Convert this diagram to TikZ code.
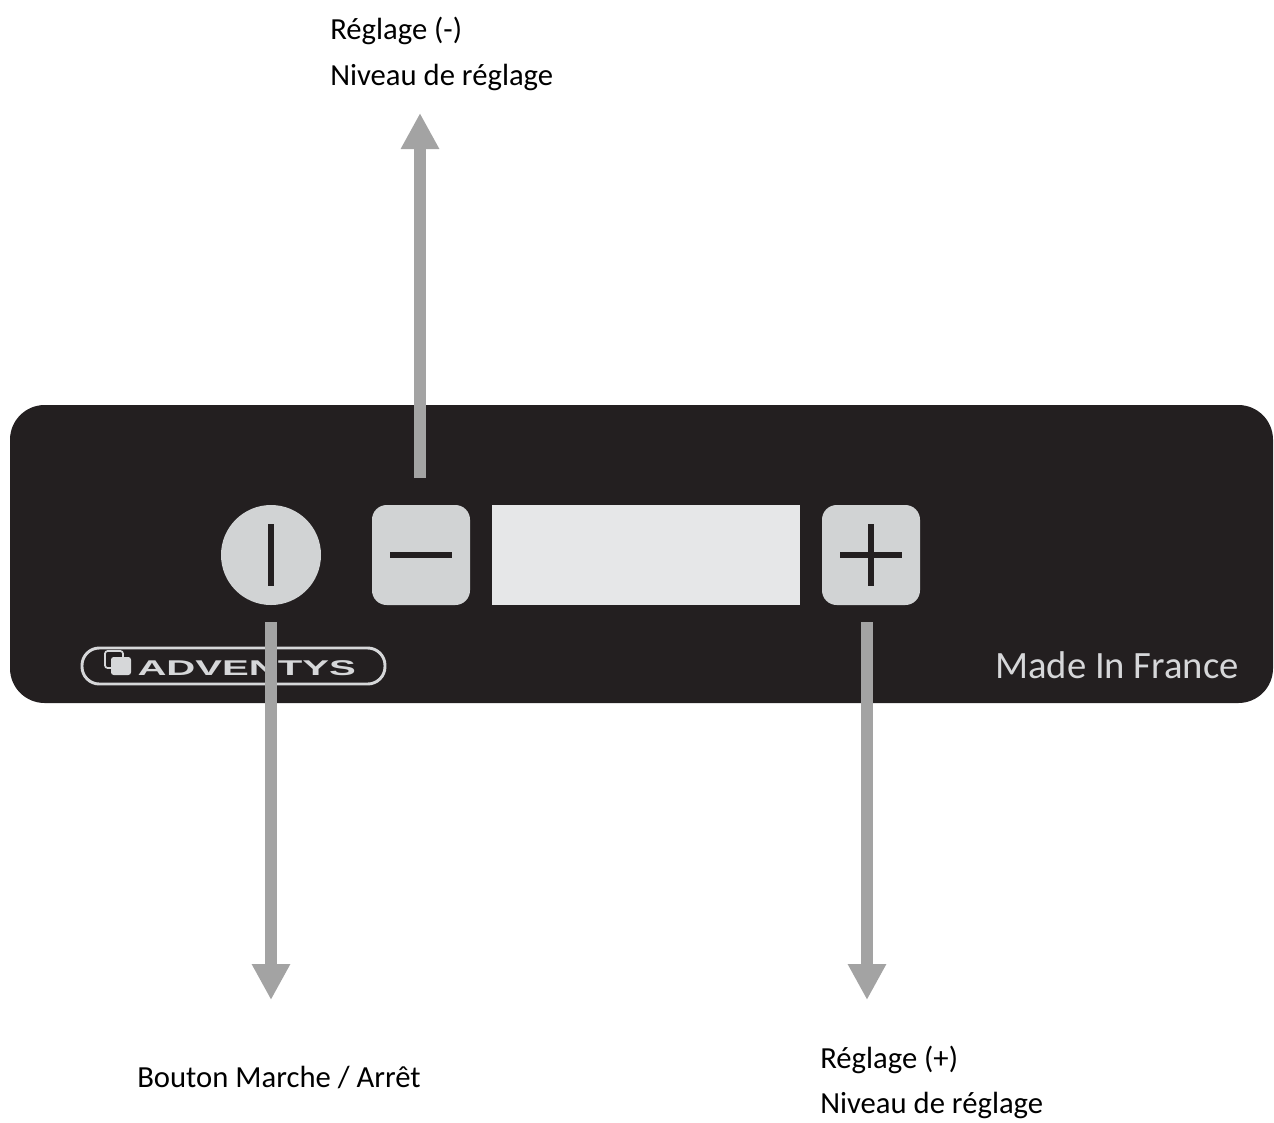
\documentclass[tikz,border=0pt]{standalone}
\usepackage{fontspec}
\setmainfont{Carlito}
\newfontfamily\logofont{Liberation Sans}
\usetikzlibrary{arrows.meta}
\definecolor{panelblack}{RGB}{35,31,32}
\definecolor{keygrey}{RGB}{209,211,212}
\definecolor{screengrey}{RGB}{230,231,232}
\definecolor{arrowgrey}{RGB}{163,163,163}
\definecolor{printgrey}{RGB}{214,215,217}
\tikzset{
  key/.style={fill=keygrey, draw=none, inner sep=0pt, minimum width=73.5pt, minimum height=75pt, rounded corners=11pt},
  glyph/.style={draw=panelblack, line width=4.5pt},
  callout/.style={draw=arrowgrey, line width=9.5pt, -{Triangle[width=27pt,length=27pt]}},
  legend/.style={anchor=base west, inner sep=0pt, font=\fontsize{23}{28}\selectfont}
}
\begin{document}
\begin{tikzpicture}[x=0.75pt,y=0.75pt,yscale=-1,xscale=1]
\useasboundingbox (0,0) rectangle (1274,1122);

%Panel
\fill[panelblack, rounded corners=26pt] (10,405) rectangle (1273,703);

%Keys
\node (power) [circle, fill=keygrey, inner sep=0pt, minimum size=75pt] at (271,555) {};
\node (minus) [key] at (421,555) {};
\node (screen) [fill=screengrey, inner sep=0pt, minimum width=231pt, minimum height=75pt] at (646,555) {};
\node (plus) [key] at (871,555) {};

%Key glyphs
\draw[glyph] ([yshift=23pt]power.center) -- ([yshift=-23pt]power.center);
\draw[glyph] ([xshift=-23pt]minus.center) -- ([xshift=23pt]minus.center);
\draw[glyph] ([xshift=-23pt]plus.center) -- ([xshift=23pt]plus.center);
\draw[glyph] ([yshift=23pt]plus.center) -- ([yshift=-23pt]plus.center);

%Logo
\draw[printgrey, line width=2.2pt, rounded corners=13pt] (82,648) rectangle (385,684);
\draw[printgrey, line width=1.3pt, rounded corners=2pt] (105,651) rectangle (123,668);
\fill[printgrey, rounded corners=2pt] (111,657) rectangle (131,675);
\node (brand) [anchor=base west, inner sep=0pt, text=printgrey, xscale=1.88, font=\logofont\bfseries\fontsize{16}{19}\selectfont] at (137,675) {ADVENTYS};
\node (origin) [anchor=base west, inner sep=0pt, text=printgrey, font=\fontsize{29}{33}\selectfont] at (995,678) {Made In France};

%Arrows
\coordinate (minusTail) at (420,478);
\coordinate (minusTip) at (420,113);
\coordinate (powerTail) at (271,622);
\coordinate (powerTip) at (271,1000);
\coordinate (plusTail) at (867,622);
\coordinate (plusTip) at (867,1000);
\draw[callout] (minusTail) -- (minusTip);
\draw[callout] (powerTail) -- (powerTip);
\draw[callout] (plusTail) -- (plusTip);

%Labels
\node (minusA) [legend] at (330,39) {Réglage (-)};
\node (minusB) [legend] at (330,85) {Niveau de réglage};
\node (powerA) [legend] at (137,1087) {Bouton Marche / Arrêt};
\node (plusA) [legend] at (820,1068) {Réglage (+)};
\node (plusB) [legend] at (820,1113) {Niveau de réglage};

\end{tikzpicture}
\end{document}
